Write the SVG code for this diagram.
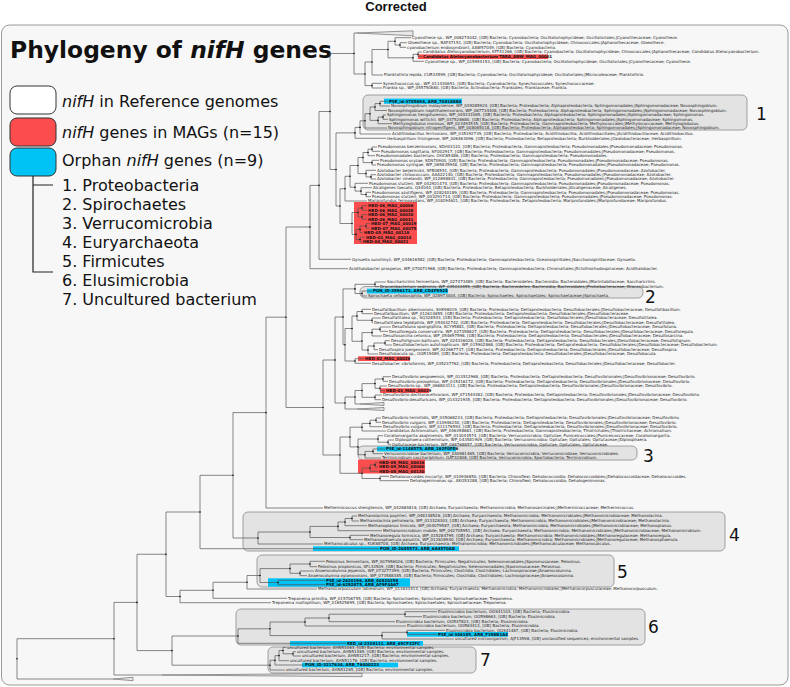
<svg xmlns="http://www.w3.org/2000/svg" width="790" height="687" viewBox="0 0 790 687">
<style>
.lb{font-family:"DejaVu Sans",sans-serif;font-size:4px;fill:#222}
.hb{font-family:"DejaVu Sans",sans-serif;font-size:4px;font-weight:bold;fill:#111}
.ed{stroke:#555;stroke-width:0.7;fill:none}
.grp{fill:#e3e3e3;stroke:#8a8a8a;stroke-width:0.8}
.red{fill:#fb4d4d}
.cy{fill:#00c3f5}
.tri{fill:#e8e8e8;stroke:#555;stroke-width:0.6}
.num{font-family:"DejaVu Sans",sans-serif;font-size:17px;fill:#111}
.lg{font-family:"DejaVu Sans",sans-serif;font-size:16px;fill:#111}
.nd{fill:#111}
</style>
<rect x="0" y="0" width="790" height="687" fill="#ffffff"/>
<text x="396" y="11" text-anchor="middle" font-family="Liberation Sans, Arial, sans-serif" font-size="13" font-weight="bold" fill="#111">Corrected</text>
<rect x="1.5" y="25" width="786.5" height="660" rx="8" fill="#f7f7f7" stroke="#9a9a9a" stroke-width="1"/>

<g id="title"><text x="10" y="58" font-family="DejaVu Sans, sans-serif" font-size="23.4" font-weight="bold" fill="#111">Phylogeny of <tspan font-style="italic">nifH</tspan> genes</text></g>
<g id="legend">
<rect x="10" y="86" width="46" height="28" rx="7" fill="#ffffff" stroke="#333" stroke-width="1"/>
<text class="lg" x="62" y="107"><tspan font-style="italic">nifH</tspan> in Reference genomes</text>
<rect x="10" y="118" width="46" height="28" rx="7" fill="#fb4d4d" stroke="#333" stroke-width="1"/>
<text class="lg" x="62" y="138"><tspan font-style="italic">nifH</tspan> genes in MAGs (n=15)</text>
<rect x="10" y="148" width="46" height="28" rx="7" fill="#00c3f5" stroke="#333" stroke-width="1"/>
<text class="lg" x="62" y="166">Orphan <tspan font-style="italic">nifH</tspan> genes (n=9)</text>
<path d="M33,176 V185 M33,185 H53 M33,185 V272 H53" fill="none" stroke="#222" stroke-width="1.2"/>
<text class="lg" x="62" y="191">1. Proteobacteria</text>
<text class="lg" x="62" y="210">2. Spirochaetes</text>
<text class="lg" x="62" y="229">3. Verrucomicrobia</text>
<text class="lg" x="62" y="248">4. Euryarchaeota</text>
<text class="lg" x="62" y="267">5. Firmicutes</text>
<text class="lg" x="62" y="286">6. Elusimicrobia</text>
<text class="lg" x="62" y="305">7. Uncultured bacterium</text>
</g>

<g id="clade-boxes">
<rect class="grp" x="363" y="95" width="384" height="35" rx="5"/>
<rect class="grp" x="360" y="286.5" width="283" height="11.5" rx="5"/>
<rect class="grp" x="358" y="446" width="279" height="14" rx="5"/>
<rect class="grp" x="243" y="512" width="482" height="39" rx="5"/>
<rect class="grp" x="257" y="555" width="357" height="32" rx="5"/>
<rect class="grp" x="236" y="609" width="409" height="36" rx="5"/>
<rect class="grp" x="268" y="647" width="208" height="26" rx="5"/>
<text class="num" x="756" y="120">1</text>
<text class="num" x="645" y="303.2" font-size="15">2</text>
<text class="num" x="643" y="462">3</text>
<text class="num" x="729" y="541">4</text>
<text class="num" x="617" y="578">5</text>
<text class="num" x="648" y="633">6</text>
<text class="num" x="480" y="666">7</text>
</g>

<g id="highlights">
<rect class="red" x="418" y="54.4" width="130" height="4.6"/>
<rect class="red" x="354" y="202" width="63" height="42"/>
<rect class="red" x="358" y="356.3" width="52" height="4.7"/>
<rect class="red" x="380" y="388.3" width="49" height="4.7"/>
<rect class="red" x="358" y="459.5" width="67" height="14"/>
<rect class="cy" x="384" y="98.6" width="78" height="5.2"/>
<rect class="cy" x="367" y="288.7" width="81" height="4.8"/>
<rect class="cy" x="377" y="446.7" width="79" height="4.7"/>
<rect class="cy" x="313" y="546.3" width="146" height="4.7"/>
<rect class="cy" x="268" y="578.3" width="142" height="8.4"/>
<rect class="cy" x="407" y="632" width="101" height="4.7"/>
<rect class="cy" x="290" y="641" width="133" height="4.7"/>
<rect class="cy" x="302" y="662.7" width="96" height="4.6"/>
</g>

<g id="connectors">
<polygon class="tri" points="357,33 413,30.8 413,35.8"/>
<polygon class="tri" points="360,404 384,402.5 384,405.5"/>
<polygon class="tri" points="357,409 384,407.5 384,410.5"/>
<polygon class="tri" points="162,675 362,673.3 362,676.7"/>
<polygon class="tri" points="113,679 133,677.3 133,680.7"/>
<path class="ed" d="M422,52H418V56.7H422 M418,54.3H413V61.3H424 M407,42.7H400V47.3H406 M411,37.7H395V45H400 M395,41.3H388V57.8H413 M388,49.5H372V75H383 M382,83.3H372V88H382 M372,62H365V85.6H372 M357,33H354V74H365"/>
<path class="ed" d="M388,101.3H380V106H390 M380,103.6H375V110.5H387 M386,115H383V119.3H388 M383,117.1H378V123.7H392 M375,107H370V120.4H378 M370,113.7H365V128H387 M365,120.8H360V134H391 M360,127.4H355V138.3H386"/>
<path class="ed" d="M377,147H372V151.3H380 M372,149.2H368V155.7H375 M379,160.3H372V165H376 M368,152.5H363V162.6H372 M376,174.7H371V179H376 M376,170.3H366V176.9H371 M363,157.5H358V173.6H366 M371,192.3H366V196.7H371 M372,187.7H361V194.5H366 M368,183.3H355V191.1H361 M358,165.5H350V187.2H355 M350,176.3H345V201H367"/>
<path class="ed" d="M367,205.7H362V210.2H367 M367,214.7H362V219.2H367 M362,208H358V217H362 M370,223.7H366V228.2H370 M366,226H360V232.7H363 M365,237.2H360V241.7H362 M360,229.4H356V239.5H360 M358,212.5H352V234.4H356 M345,188.7H340V223.5H352 M355,132.9H336V206H340 M354,53.5H330V169.5H336 M330,111.5H319V259.3H351 M319,185.4H310V268.7H348"/>
<path class="ed" d="M386,282H375V286.7H379 M372,291H362V296H367 M375,284.3H355V293.5H362 M355,288.9H343V344.75H345"/>
<path class="ed" d="M371,309.3H362V313.7H373 M381,318H372V322.7H373 M362,311.5H357V320.3H372 M391,327H380V331.3H388 M380,329.2H372V336H382 M390,340.7H385V345H392 M385,343H374V349.7H378 M374,346H368V354H378 M372,332.6H362V350H368 M357,316H352V341.3H362 M364,358.7H355V363.3H371 M352,328.5H345V361H355"/>
<path class="ed" d="M391,376.7H383V381.3H388 M387,386H380V390.7H385 M383,379H375V388.3H380 M382,395H375V399.7H381 M375,383.6H362V397.3H375 M362,390.5H355V404H360 M355,397H345V409H357 M343,317H335V403H345"/>
<path class="ed" d="M381,418H376V422.3H381 M376,420.2H370V426.7H382 M370,423.4H362V431H386 M394,440H388V444.3H391 M383,435.7H378V442.2H388 M385,449H373V453.7H383 M373,451.4H365V458H381 M378,439H358V454.7H365 M362,427.2H350V446.9H358"/>
<path class="ed" d="M378,462.7H375V467H378 M375,464.9H370V471.3H378 M389,476.3H380V480.7H409 M370,468.1H362V478.5H380 M350,437H340V473.3H362 M335,360H323V455H340 M310,227H286V407.5H323 M286,317.2H266V508H323"/>
<path class="ed" d="M357,516H352V521H359 M352,518.5H345V525.7H367 M345,522H338V530.7H382 M369,535.3H350V539.7H363 M338,526.4H310V537.5H350 M310,532H258V544H323 M266,412.6H233V538H258 M233,475.3H200V548.7H379"/>
<path class="ed" d="M325,561.3H310V566.7H317 M314,571H300V575.7H307 M310,564H290V573.3H300 M325,580.3H278V584.7H325 M290,568.6H260V582.5H278 M260,575.5H247V589H317 M247,582.25H213V598.3H287 M213,590.3H180V602.7H271 M200,512H166V596.5H180"/>
<path class="ed" d="M437,611.7H405V616.7H422 M405,614.2H329V621.7H395 M329,618H305V626H406 M445,630.3H407V634.3H437 M407,632.3H382V639H454 M305,622H270V635.6H382 M270,628.8H238V643.3H346"/>
<path class="ed" d="M296,651.7H293V656H301 M286,647.3H283V653.8H293 M283,650.5H279V660.7H289 M279,655.6H275V665H304 M275,660.3H270V670H285 M238,636H172V665.2H270 M166,554.25H137V650.6H172 M137,602.4H114V675H162 M114,638.7H17V679H113"/>
<g class="nd">
<circle cx="418" cy="54.3" r="0.8"/><circle cx="413" cy="57.8" r="0.8"/><circle cx="400" cy="45" r="0.8"/><circle cx="395" cy="41.3" r="0.8"/><circle cx="388" cy="49.5" r="0.8"/><circle cx="372" cy="62" r="0.8"/><circle cx="372" cy="85.6" r="0.8"/><circle cx="365" cy="74" r="0.8"/><circle cx="354" cy="53.5" r="0.8"/>
<circle cx="380" cy="103.6" r="0.8"/><circle cx="375" cy="107" r="0.8"/><circle cx="383" cy="117.1" r="0.8"/><circle cx="378" cy="120.4" r="0.8"/><circle cx="370" cy="113.7" r="0.8"/><circle cx="365" cy="120.8" r="0.8"/><circle cx="360" cy="127.4" r="0.8"/><circle cx="355" cy="132.9" r="0.8"/>
<circle cx="372" cy="149.2" r="0.8"/><circle cx="368" cy="152.5" r="0.8"/><circle cx="372" cy="162.6" r="0.8"/><circle cx="363" cy="157.5" r="0.8"/><circle cx="371" cy="176.9" r="0.8"/><circle cx="366" cy="173.6" r="0.8"/><circle cx="358" cy="165.5" r="0.8"/><circle cx="366" cy="194.5" r="0.8"/><circle cx="361" cy="191.1" r="0.8"/><circle cx="355" cy="187.2" r="0.8"/><circle cx="350" cy="176.3" r="0.8"/><circle cx="345" cy="188.7" r="0.8"/>
<circle cx="362" cy="208" r="0.8"/><circle cx="362" cy="217" r="0.8"/><circle cx="358" cy="212.5" r="0.8"/><circle cx="366" cy="226" r="0.8"/><circle cx="360" cy="229.4" r="0.8"/><circle cx="360" cy="239.5" r="0.8"/><circle cx="356" cy="234.4" r="0.8"/><circle cx="352" cy="223.5" r="0.8"/><circle cx="340" cy="206" r="0.8"/><circle cx="336" cy="169.5" r="0.8"/><circle cx="330" cy="111.5" r="0.8"/><circle cx="319" cy="185.4" r="0.8"/><circle cx="310" cy="227" r="0.8"/>
<circle cx="375" cy="284.3" r="0.8"/><circle cx="362" cy="293.5" r="0.8"/><circle cx="355" cy="288.9" r="0.8"/><circle cx="343" cy="317" r="0.8"/>
<circle cx="362" cy="311.5" r="0.8"/><circle cx="372" cy="320.3" r="0.8"/><circle cx="357" cy="316" r="0.8"/><circle cx="380" cy="329.2" r="0.8"/><circle cx="372" cy="332.6" r="0.8"/><circle cx="385" cy="343" r="0.8"/><circle cx="374" cy="346" r="0.8"/><circle cx="368" cy="350" r="0.8"/><circle cx="362" cy="341" r="0.8"/><circle cx="352" cy="328.5" r="0.8"/><circle cx="355" cy="361" r="0.8"/><circle cx="345" cy="344.75" r="0.8"/>
<circle cx="383" cy="379" r="0.8"/><circle cx="380" cy="388.3" r="0.8"/><circle cx="375" cy="383.6" r="0.8"/><circle cx="375" cy="397.3" r="0.8"/><circle cx="362" cy="390.5" r="0.8"/><circle cx="355" cy="397" r="0.8"/><circle cx="345" cy="403" r="0.8"/><circle cx="335" cy="360" r="0.8"/>
<circle cx="376" cy="420.2" r="0.8"/><circle cx="370" cy="423.4" r="0.8"/><circle cx="362" cy="427.2" r="0.8"/><circle cx="388" cy="442.2" r="0.8"/><circle cx="378" cy="439" r="0.8"/><circle cx="373" cy="451.4" r="0.8"/><circle cx="365" cy="454.7" r="0.8"/><circle cx="358" cy="446.9" r="0.8"/><circle cx="350" cy="437" r="0.8"/>
<circle cx="375" cy="464.9" r="0.8"/><circle cx="370" cy="468.1" r="0.8"/><circle cx="380" cy="478.5" r="0.8"/><circle cx="362" cy="473.3" r="0.8"/><circle cx="340" cy="455" r="0.8"/><circle cx="323" cy="407.5" r="0.8"/><circle cx="286" cy="317.2" r="0.8"/><circle cx="266" cy="412.6" r="0.8"/>
<circle cx="352" cy="518.5" r="0.8"/><circle cx="345" cy="522" r="0.8"/><circle cx="338" cy="526.4" r="0.8"/><circle cx="350" cy="537.5" r="0.8"/><circle cx="310" cy="532" r="0.8"/><circle cx="258" cy="538" r="0.8"/><circle cx="233" cy="475.3" r="0.8"/><circle cx="200" cy="512" r="0.8"/>
<circle cx="310" cy="564" r="0.8"/><circle cx="300" cy="573.3" r="0.8"/><circle cx="290" cy="568.6" r="0.8"/><circle cx="278" cy="582.5" r="0.8"/><circle cx="260" cy="575.5" r="0.8"/><circle cx="247" cy="582.25" r="0.8"/><circle cx="213" cy="590.3" r="0.8"/><circle cx="180" cy="596.5" r="0.8"/><circle cx="166" cy="554.25" r="0.8"/><circle cx="137" cy="602.4" r="0.8"/><circle cx="114" cy="638.7" r="0.8"/><circle cx="17" cy="658.8" r="0.8"/>
<circle cx="405" cy="614.2" r="0.8"/><circle cx="329" cy="618" r="0.8"/><circle cx="305" cy="622" r="0.8"/><circle cx="407" cy="632.3" r="0.8"/><circle cx="382" cy="635.6" r="0.8"/><circle cx="270" cy="628.8" r="0.8"/><circle cx="238" cy="636" r="0.8"/>
<circle cx="293" cy="653.8" r="0.8"/><circle cx="283" cy="650.5" r="0.8"/><circle cx="279" cy="655.6" r="0.8"/><circle cx="275" cy="660.3" r="0.8"/><circle cx="270" cy="665.2" r="0.8"/><circle cx="172" cy="650.6" r="0.8"/>
</g>
</g>

<g id="leaves">
<g id="n01"><text class="lb" x="412" y="39.1">Cyanothece sp., WP_008274042, [GB] Bacteria; Cyanobacteria; Oscillatoriophycideae; Oscillatoriales;|Cyanothecaceae; Cyanothece.</text></g>
<g id="n02"><text class="lb" x="408" y="44.1">Gloeothece sp., BAF47151, [GB] Bacteria; Cyanobacteria; Oscillatoriophycideae; Chroococcales;|Aphanothecaceae; Gloeothece.</text></g>
<g id="n03"><text class="lb" x="407" y="48.7">cyanobacterium endosymbiont, AAW57049, [GB] Bacteria; Cyanobacteria.</text></g>
<g id="n04"><text class="lb" x="423" y="53.4">Candidatus Atelocyanobacterium, KFF41266, [GB] Bacteria; Cyanobacteria; Oscillatoriophycideae; Chroococcales;|Aphanothecaceae; Candidatus Atelocyanobacterium.</text></g>
<g id="n05"><text class="hb" x="423" y="58.1">Candidatus Atelocyanobacterium TARA_ANW_MAG_00001</text></g>
<g id="n06"><text class="lb" x="425" y="62.7">Cyanothece sp., WP_015954153, [GB] Bacteria; Cyanobacteria; Oscillatoriophycideae; Oscillatoriales;|Cyanothecaceae; Cyanothece.</text></g>
<g id="n07"><text class="lb" x="384" y="76.4">Planktothrix lepida, CUR34599, [GB] Bacteria; Cyanobacteria; Oscillatoriophycideae; Oscillatoriales;|Microcoleaceae; Planktothrix.</text></g>
<g id="n08"><text class="lb" x="383" y="84.7">Synechococcus sp., WP_011430651, [GB] Bacteria; Cyanobacteria; Synechococcales; Synechococcaceae.</text></g>
<g id="n09"><text class="lb" x="383" y="89.4">Frankia sp., WP_055750680, [GB] Bacteria; Actinobacteria; Frankiales; Frankiaceae; Frankia.</text></g>
<g id="n10"><text class="hb" x="389" y="102.7">PSE_id-3785694, ARB_70818880</text></g>
<g id="n11"><text class="lb" x="391" y="107.4">Novosphingobium malaysiense, WP_039285924, [GB] Bacteria; Proteobacteria; Alphaproteobacteria; Sphingomonadales;|Sphingomonadaceae; Novosphingobium.</text></g>
<g id="n12"><text class="lb" x="388" y="111.9">Novosphingobium naphthalenivorans, WP_067734408, [GB] Bacteria; Proteobacteria; Alphaproteobacteria; Sphingomonadales;|Sphingomonadaceae; Novosphingobium.</text></g>
<g id="n13"><text class="lb" x="387" y="116.4">Sphingomonas hengshuiensis, WP_044331065, [GB] Bacteria; Proteobacteria; Alphaproteobacteria; Sphingomonadales;|Sphingomonadaceae; Sphingomonas.</text></g>
<g id="n14"><text class="lb" x="389" y="120.7">Sphingomonas wittichii, WP_037528680, [GB] Bacteria; Proteobacteria; Alphaproteobacteria; Sphingomonadales;|Sphingomonadaceae; Sphingomonas.</text></g>
<g id="n15"><text class="lb" x="393" y="125.1">Methyloglobulus morosus, WP_023493535, [GB] Bacteria; Proteobacteria; Gammaproteobacteria; Methylococcales;|Methylococcaceae; Methyloglobulus.</text></g>
<g id="n16"><text class="lb" x="388" y="129.4">Novosphingobium nitrogenifigens, WP_008065018, [GB] Bacteria; Proteobacteria; Alphaproteobacteria; Sphingomonadales;|Sphingomonadaceae; Novosphingobium.</text></g>
<g id="n17"><text class="lb" x="392" y="135.4">Acidithiobacillus ferrivorans, WP_035192739, [GB] Bacteria; Proteobacteria; Acidithiobacillia; Acidithiobacillales;|Acidithiobacillaceae; Acidithiobacillus.</text></g>
<g id="n18"><text class="lb" x="387" y="139.7">Herbaspirillum frisingense, WP_006463096, [GB] Bacteria; Proteobacteria; Betaproteobacteria; Burkholderiales;|Oxalobacteraceae; Herbaspirillum.</text></g>
<g id="n19"><text class="lb" x="378" y="148.4">Pseudomonas benzenivorans, SDH03122, [GB] Bacteria; Proteobacteria; Gammaproteobacteria; Pseudomonadales;|Pseudomonadaceae; Pseudomonas.</text></g>
<g id="n20"><text class="lb" x="381" y="152.7">Pseudomonas sagittaria, SFO02917, [GB] Bacteria; Proteobacteria; Gammaproteobacteria; Pseudomonadales;|Pseudomonadaceae; Pseudomonas.</text></g>
<g id="n21"><text class="lb" x="376" y="157.1">Pseudomonadales bacterium, OHC65486, [GB] Bacteria; Proteobacteria; Gammaproteobacteria; Pseudomonadales.</text></g>
<g id="n22"><text class="lb" x="380" y="161.7">Pseudomonas oryzae, SDS70900, [GB] Bacteria; Proteobacteria; Gammaproteobacteria; Pseudomonadales;|Pseudomonadaceae; Pseudomonas.</text></g>
<g id="n23"><text class="lb" x="377" y="166.4">Pseudomonas syringae, WP_065835948, [GB] Bacteria; Proteobacteria; Gammaproteobacteria; Pseudomonadales;|Pseudomonadaceae; Pseudomonas.</text></g>
<g id="n24"><text class="lb" x="377" y="171.7">Azotobacter beijerinckii, SFB08551, [GB] Bacteria; Proteobacteria; Gammaproteobacteria; Pseudomonadales;|Pseudomonadaceae; Azotobacter.</text></g>
<g id="n25"><text class="lb" x="377" y="176.1">Azotobacter chroococcum, AAA22140, [GB] Bacteria; Proteobacteria; Gammaproteobacteria; Pseudomonadales;|Pseudomonadaceae; Azotobacter.</text></g>
<g id="n26"><text class="lb" x="377" y="180.4">Azotobacter vinelandii, WP_012698831, [GB] Bacteria; Proteobacteria; Gammaproteobacteria; Pseudomonadales;|Pseudomonadaceae; Azotobacter.</text></g>
<g id="n27"><text class="lb" x="369" y="184.7">Pseudomonas stutzeri, WP_042921474, [GB] Bacteria; Proteobacteria; Gammaproteobacteria; Pseudomonadales;|Pseudomonadaceae; Pseudomonas.</text></g>
<g id="n28"><text class="lb" x="373" y="189.1">Alcaligenes faecalis, Q44044, [GB] Bacteria; Proteobacteria; Betaproteobacteria; Burkholderiales;|Alcaligenaceae; Alcaligenes.</text></g>
<g id="n29"><text class="lb" x="372" y="193.7">Pseudomonas azotifigens, WP_028240189, [GB] Bacteria; Proteobacteria; Gammaproteobacteria; Pseudomonadales;|Pseudomonadaceae; Pseudomonas.</text></g>
<g id="n30"><text class="lb" x="372" y="198.1">Pseudomonas stutzeri, WP_003291714, [GB] Bacteria; Proteobacteria; Gammaproteobacteria; Pseudomonadales;|Pseudomonadaceae; Pseudomonas.</text></g>
<g id="n31"><text class="lb" x="368" y="202.4">Mariprofundus ferrooxydans, WP_018294621, [GB] Bacteria; Proteobacteria; Zetaproteobacteria; Mariprofundales;|Mariprofundaceae; Mariprofundus.</text></g>
<g id="n32"><text class="hb" x="368" y="207.1">HBD-06_MAG_00006</text></g>
<g id="n33"><text class="hb" x="368" y="211.6">HBD-06_MAG_00028</text></g>
<g id="n34"><text class="hb" x="368" y="216.1">HBD-06_MAG_00030</text></g>
<g id="n35"><text class="hb" x="368" y="220.6">HBD-06_MAG_00031</text></g>
<g id="n36"><text class="hb" x="371" y="225.1">HBD-07_MAG_00019</text></g>
<g id="n37"><text class="hb" x="371" y="229.6">HBD-07_MAG_00075</text></g>
<g id="n38"><text class="hb" x="364" y="234.1">HBD-05_MAG_00118</text></g>
<g id="n39"><text class="hb" x="366" y="238.6">HBD-03_MAG_00014</text></g>
<g id="n40"><text class="hb" x="363" y="243.1">HBD-04_MAG_00021</text></g>
<g id="n41"><text class="lb" x="352" y="260.7">Gynuella sunshinyii, WP_044616582, [GB] Bacteria; Proteobacteria; Gammaproteobacteria; Oceanospirillales;|Saccharospirillaceae; Gynuella.</text></g>
<g id="n42"><text class="lb" x="349" y="270.1">Acidihalobacter prosperus, WP_070071968, [GB] Bacteria; Proteobacteria; Gammaproteobacteria; Chromatiales;|Ectothiorhodospiraceae; Acidihalobacter.</text></g>
<g id="n43"><text class="lb" x="387" y="283.4">Saccharicrinis fermentans, WP_027473489, [GB] Bacteria; Bacteroidetes; Bacteroidia; Bacteroidales;|Marinilabiliaceae; Saccharicrinis.</text></g>
<g id="n44"><text class="lb" x="380" y="288.1">Draconibacterium sediminis, WP_045033455, [GB] Bacteria; Bacteroidetes; Bacteroidia; Bacteroidales;|Prolixibacteraceae; Draconibacterium.</text></g>
<g id="n45"><text class="hb" x="373" y="292.4">PON_ID-3596171, ARB_CD4F9924</text></g>
<g id="n46"><text class="lb" x="368" y="297.4">Spirochaeta cellobiosiphila, WP_028973004, [GB] Bacteria; Spirochaetes; Spirochaetales; Spirochaetaceae;|Spirochaeta.</text></g>
<g id="n47"><text class="lb" x="372" y="310.7">Desulfatibacillum alkenivorans, SHK98019, [GB] Bacteria; Proteobacteria; Deltaproteobacteria; Desulfobacterales;|Desulfobacteraceae; Desulfatibacillum.</text></g>
<g id="n48"><text class="lb" x="374" y="315.1">Desulfatibacillum, WP_012610655, [GB] Bacteria; Proteobacteria; Deltaproteobacteria; Desulfobacterales;|Desulfobacteraceae.</text></g>
<g id="n49"><text class="lb" x="382" y="319.4">Desulfatitalea sp., SQ328543, [GB] Bacteria; Proteobacteria; Deltaproteobacteria; Desulfobacterales;|Desulfobacteraceae; Desulfatitalea.</text></g>
<g id="n50"><text class="lb" x="374" y="324.1">Desulfatitalea tepidiphila, WP_054032742, [GB] Bacteria; Proteobacteria; Deltaproteobacteria; Desulfobacterales;|Desulfobacteraceae; Desulfatitalea.</text></g>
<g id="n51"><text class="lb" x="392" y="328.4">Desulfoluna spongiiphila, SCY95881, [GB] Bacteria; Proteobacteria; Deltaproteobacteria; Desulfobacterales;|Desulfobacteraceae; Desulfoluna.</text></g>
<g id="n52"><text class="lb" x="389" y="332.7">Desulforegula conservatrix, WP_027358827, [GB] Bacteria; Proteobacteria; Deltaproteobacteria; Desulfobacterales;|Desulfobacteraceae; Desulforegula.</text></g>
<g id="n53"><text class="lb" x="383" y="337.4">Desulfosarcina cetonica, WP_054697598, [GB] Bacteria; Proteobacteria; Deltaproteobacteria; Desulfobacterales;|Desulfobacteraceae; Desulfosarcina.</text></g>
<g id="n54"><text class="lb" x="391" y="342.1">Desulfotignum balticum, WP_024336028, [GB] Bacteria; Proteobacteria; Deltaproteobacteria; Desulfobacterales;|Desulfobacteraceae; Desulfotignum.</text></g>
<g id="n55"><text class="lb" x="393" y="346.4">Desulfobacterium autotrophicum, WP_015902868, [GB] Bacteria; Proteobacteria; Deltaproteobacteria; Desulfobacterales;|Desulfobacteraceae; Desulfobacterium.</text></g>
<g id="n56"><text class="lb" x="379" y="351.1">Desulfospira joergensenii, WP_022667737, [GB] Bacteria; Proteobacteria; Deltaproteobacteria; Desulfobacterales;|Desulfobacteraceae; Desulfospira.</text></g>
<g id="n57"><text class="lb" x="379" y="355.4">Desulfobacula sp., OGR19489, [GB] Bacteria; Proteobacteria; Deltaproteobacteria; Desulfobacterales;|Desulfobacteraceae; Desulfobacula.</text></g>
<g id="n58"><text class="hb" x="365" y="360.1">HBD-02_MAG_00026</text></g>
<g id="n59"><text class="lb" x="372" y="364.7">Desulfobacter vibrioformis, WP_035237762, [GB] Bacteria; Proteobacteria; Deltaproteobacteria; Desulfobacterales;|Desulfobacteraceae; Desulfobacter.</text></g>
<g id="n60"><text class="lb" x="392" y="378.1">Desulfovibrio aespoeensis, WP_013512968, [GB] Bacteria; Proteobacteria; Deltaproteobacteria; Desulfovibrionales;|Desulfovibrionaceae; Desulfovibrio.</text></g>
<g id="n61"><text class="lb" x="389" y="382.7">Desulfovibrio piezophilus, WP_015416172, [GB] Bacteria; Proteobacteria; Deltaproteobacteria; Desulfovibrionales;|Desulfovibrionaceae; Desulfovibrio.</text></g>
<g id="n62"><text class="lb" x="388" y="387.4">Desulfovibrio sp., WP_066803111, [GB] Bacteria; Proteobacteria; Deltaproteobacteria; Desulfovibrionales;|Desulfovibrionaceae; Desulfovibrio.</text></g>
<g id="n63"><text class="hb" x="386" y="392.1">HBD-01_MAG_00019</text></g>
<g id="n64"><text class="lb" x="383" y="396.4">Desulfovibrio dechloracetivorans, WP_071544382, [GB] Bacteria; Proteobacteria; Deltaproteobacteria; Desulfovibrionales;|Desulfovibrionaceae; Desulfovibrio.</text></g>
<g id="n65"><text class="lb" x="382" y="401.1">Desulfovibrio desulfuricans, WP_014321935, [GB] Bacteria; Proteobacteria; Deltaproteobacteria; Desulfovibrionales;|Desulfovibrionaceae; Desulfovibrio.</text></g>
<g id="n66"><text class="lb" x="382" y="419.4">Desulfovibrio termitidis, WP_035068233, [GB] Bacteria; Proteobacteria; Deltaproteobacteria; Desulfovibrionales;|Desulfovibrionaceae; Desulfovibrio.</text></g>
<g id="n67"><text class="lb" x="382" y="423.7">Desulfovibrio vulgaris, WP_010946240, [GB] Bacteria; Proteobacteria; Deltaproteobacteria; Desulfovibrionales;|Desulfovibrionaceae; Desulfovibrio.</text></g>
<g id="n68"><text class="lb" x="383" y="428.1">Desulfovibrio vulgaris, WP_011176593, [GB] Bacteria; Proteobacteria; Deltaproteobacteria; Desulfovibrionales;|Desulfovibrionaceae; Desulfovibrio.</text></g>
<g id="n69"><text class="lb" x="387" y="432.4">Candidatus Achromatium, WP_046398681, [GB] Bacteria; Proteobacteria; Gammaproteobacteria; Thiotrichales;|Thiotrichaceae; Achromatium.</text></g>
<g id="n70"><text class="lb" x="384" y="437.1">Coraliomargarita akajimensis, WP_013044574, [GB] Bacteria; Verrucomicrobia; Opitutae; Puniceicoccales;|Puniceicoccaceae; Coraliomargarita.</text></g>
<g id="n71"><text class="lb" x="395" y="441.4">Diplosphaera colitermitum, WP_043581909, [GB] Bacteria; Verrucomicrobia; Opitutae; Opitutales; Opitutaceae;|Diplosphaera.</text></g>
<g id="n72"><text class="lb" x="392" y="445.7">Opitutaceae bacterium, WP_068768857, [GB] Bacteria; Verrucomicrobia; Opitutae; Opitutales; Opitutaceae.</text></g>
<g id="n73"><text class="hb" x="386" y="450.4">PSE_id-1148575, ARB_162F0FE6</text></g>
<g id="n74"><text class="lb" x="384" y="455.1">Verrucomicrobiae bacterium, WP_040981465, [GB] Bacteria; Verrucomicrobia; Verrucomicrobiae; Verrucomicrobiales.</text></g>
<g id="n75"><text class="lb" x="382" y="459.4">Terrimicrobium sacchariphilum, GAT32808, [GB] Bacteria; Verrucomicrobia; Spartobacteria; Terrimicrobium.</text></g>
<g id="n76"><text class="hb" x="379" y="464.1">HBD-09_MAG_00016</text></g>
<g id="n77"><text class="hb" x="379" y="468.4">HBD-09_MAG_00060</text></g>
<g id="n78"><text class="hb" x="379" y="472.7">HBD-08_MAG_00130</text></g>
<g id="n79"><text class="lb" x="390" y="477.7">Dehalococcoides mccartyi, WP_010936850, [GB] Bacteria; Chloroflexi; Dehalococcoidia; Dehalococcoidales;|Dehalococcoidaceae; Dehalococcoides.</text></g>
<g id="n80"><text class="lb" x="410" y="482.1">Dehalogenimonas sp., AKG53288, [GB] Bacteria; Chloroflexi; Dehalococcoidia; Dehalogenimonas.</text></g>
<g id="n81"><text class="lb" x="324" y="509.4">Methermicoccus shengliensis, WP_042684816, [GB] Archaea; Euryarchaeota; Methanomicrobia; Methanosarcinales;|Methermicoccaceae; Methermicoccus.</text></g>
<g id="n82"><text class="lb" x="358" y="517.4">Methanolacinia paynteri, WP_048148526, [GB] Archaea; Euryarchaeota; Methanomicrobia; Methanomicrobiales;|Methanomicrobiaceae; Methanolacinia.</text></g>
<g id="n83"><text class="lb" x="360" y="522.4">Methanolacinia petrolearia, WP_013328303, [GB] Archaea; Euryarchaeota; Methanomicrobia; Methanomicrobiales;|Methanomicrobiaceae; Methanolacinia.</text></g>
<g id="n84"><text class="lb" x="368" y="527.1">Methanoplanus limicola, WP_004079587, [GB] Archaea; Euryarchaeota; Methanomicrobia; Methanomicrobiales;|Methanomicrobiaceae; Methanoplanus.</text></g>
<g id="n85"><text class="lb" x="383" y="532.1">Methanomicrobium mobile, WP_042705951, [GB] Archaea; Euryarchaeota; Methanomicrobia; Methanomicrobiales;|Methanomicrobiaceae; Methanomicrobium.</text></g>
<g id="n86"><text class="lb" x="370" y="536.7">Methanoregula formicica, WP_015284795, [GB] Archaea; Euryarchaeota; Methanomicrobia; Methanomicrobiales;|Methanoregulaceae; Methanoregula.</text></g>
<g id="n87"><text class="lb" x="364" y="541.1">Methanosphaerula palustris, WP_012618940, [GB] Archaea; Euryarchaeota; Methanomicrobia; Methanomicrobiales;|Methanoregulaceae; Methanosphaerula.</text></g>
<g id="n88"><text class="lb" x="324" y="545.4">Methanocalculus sp., KUK68708, [GB] Archaea; Euryarchaeota; Methanomicrobia; Methanomicrobiales;|Methanocalculaceae; Methanocalculus.</text></g>
<g id="n89"><text class="hb" x="380" y="550.1">PON_ID-2045572, ARB_6A4570AB</text></g>
<g id="n90"><text class="lb" x="326" y="562.7">Pelosinus fermentans, WP_007956026, [GB] Bacteria; Firmicutes; Negativicutes; Selenomonadales;|Sporomusaceae; Pelosinus.</text></g>
<g id="n91"><text class="lb" x="318" y="568.1">Pelosinus propionicus, SFL33509, [GB] Bacteria; Firmicutes; Negativicutes; Selenomonadales;|Sporomusaceae; Pelosinus.</text></g>
<g id="n92"><text class="lb" x="315" y="572.4">Anaerocolumna jejuensis, WP_073277399, [GB] Bacteria; Firmicutes; Clostridia; Clostridiales; Lachnospiraceae;|Anaerocolumna.</text></g>
<g id="n93"><text class="lb" x="308" y="577.1">Anaerocolumna xylanovorans, WP_073588385, [GB] Bacteria; Firmicutes; Clostridia; Clostridiales; Lachnospiraceae;|Anaerocolumna.</text></g>
<g id="n94"><text class="hb" x="326" y="581.7">PSE_id-2620196, ARB_40820258</text></g>
<g id="n95"><text class="hb" x="326" y="586.1">PSE_id-6292875, ARB_AF9F4A67</text></g>
<g id="n96"><text class="lb" x="318" y="590.4">Methanocorpusculum labreanum, WP_011833413, [GB] Archaea; Euryarchaeota; Methanomicrobia; Methanomicrobiales;|Methanocorpusculaceae; Methanocorpusculum.</text></g>
<g id="n97"><text class="lb" x="288" y="599.7">Treponema primitia, WP_015706755, [GB] Bacteria; Spirochaetes; Spirochaetales; Spirochaetaceae; Treponema.</text></g>
<g id="n98"><text class="lb" x="272" y="604.1">Treponema maltophilum, WP_016525895, [GB] Bacteria; Spirochaetes; Spirochaetales; Spirochaetaceae; Treponema.</text></g>
<g id="n99"><text class="lb" x="438" y="613.1">Elusimicrobia bacterium, OGS41103, [GB] Bacteria; Elusimicrobia.</text></g>
<g id="n100"><text class="lb" x="423" y="618.1">Elusimicrobia bacterium, OGR98663, [GB] Bacteria; Elusimicrobia.</text></g>
<g id="n101"><text class="lb" x="396" y="623.1">Elusimicrobia bacterium, OGR47823, [GB] Bacteria; Elusimicrobia.</text></g>
<g id="n102"><text class="lb" x="407" y="627.4">Elusimicrobia bacterium, OGR63413, [GB] Bacteria; Elusimicrobia.</text></g>
<g id="n103"><text class="lb" x="446" y="631.7">Elusimicrobia bacterium, OGS41487, [GB] Bacteria; Elusimicrobia.</text></g>
<g id="n104"><text class="hb" x="438" y="635.7">PSE_id-346185, ARB_F398B1A4</text></g>
<g id="n105"><text class="lb" x="455" y="640.4">uncultured microorganism, AJF13598, [GB] unclassified sequences; environmental samples.</text></g>
<g id="n106"><text class="hb" x="347" y="644.7">RED_id-2338111, ARB_65CF32FC</text></g>
<g id="n107"><text class="lb" x="287" y="648.7">uncultured bacterium, AHN51063, [GB] Bacteria; environmental samples.</text></g>
<g id="n108"><text class="lb" x="297" y="653.1">uncultured bacterium, AHN51489, [GB] Bacteria; environmental samples.</text></g>
<g id="n109"><text class="lb" x="302" y="657.4">uncultured bacterium, AHN51217, [GB] Bacteria; environmental samples.</text></g>
<g id="n110"><text class="lb" x="290" y="662.1">uncultured bacterium, AHN51176, [GB] Bacteria; environmental samples.</text></g>
<g id="n111"><text class="hb" x="305" y="666.4">PON_ID-3217634, ARB_76400223</text></g>
<g id="n112"><text class="lb" x="286" y="671.4">uncultured bacterium, AHN51265, [GB] Bacteria; environmental samples.</text></g>
</g>
</svg>
